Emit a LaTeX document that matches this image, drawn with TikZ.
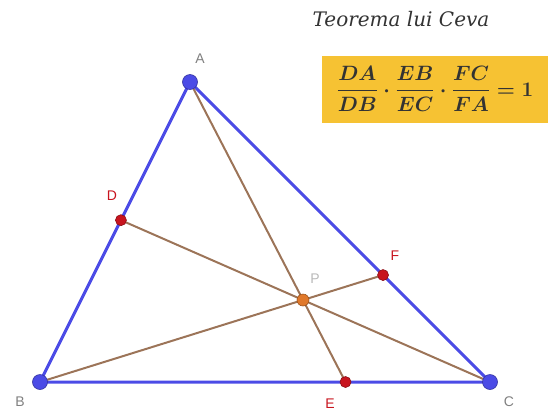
\documentclass[tikz,border=0pt]{standalone}
\usepackage{fontspec}
\setmainfont{Liberation Serif}
\setsansfont{Liberation Sans}
\newfontfamily\titlefont{DejaVu Serif}
\usepackage{amsmath}
\usetikzlibrary{backgrounds}
\definecolor{geoBlue}{HTML}{4B4BE6}
\definecolor{geoRed}{HTML}{C8141E}
\definecolor{geoOrange}{HTML}{E0782A}
\definecolor{geoBrown}{HTML}{9C7458}
\definecolor{geoGray}{HTML}{808080}
\definecolor{boxYellow}{HTML}{F6C233}
\newcommand{\cevaratio}{\ensuremath{\dfrac{DA}{DB}\cdot\dfrac{EB}{EC}\cdot\dfrac{FC}{FA}=1}}

\begin{document}
\begin{tikzpicture}[x=1pt, y=-1pt,
    vertex/.style={circle, fill=geoBlue, draw=geoBlue!70!black, line width=0.6pt,
                   minimum size=15pt, inner sep=0pt},
    footpt/.style={circle, fill=geoRed, draw=geoRed!70!black, line width=0.6pt,
                   minimum size=11pt, inner sep=0pt},
    centre/.style={circle, fill=geoOrange, draw=geoOrange!70!black, line width=0.6pt,
                   minimum size=12pt, inner sep=0pt},
    side/.style={geoBlue, line width=3pt},
    cevian/.style={geoBrown, line width=2pt},
    lbl/.style={font=\sffamily\fontsize{14}{14}\selectfont, text=geoGray},
    redlbl/.style={lbl, text=geoRed},
  ]
    \useasboundingbox (0,0) rectangle (557,413);

    % the triangle and the common point
    \coordinate (a) at (190,82);
    \coordinate (b) at (40,382);
    \coordinate (c) at (490,382);
    \coordinate (p) at (303,300);
    % feet of the cevians
    \coordinate (d) at (intersection of c--p and a--b);
    \coordinate (e) at (intersection of a--p and b--c);
    \coordinate (f) at (intersection of b--p and a--c);

    \node[vertex] (A) at (a) {};
    \node[vertex] (B) at (b) {};
    \node[vertex] (C) at (c) {};
    \node[footpt] (D) at (d) {};
    \node[footpt] (E) at (e) {};
    \node[footpt] (F) at (f) {};
    \node[centre] (P) at (p) {};

    \begin{pgfonlayer}{background}
      \draw[side] (A.center) -- (B.center) -- (C.center) -- cycle;
      \draw[cevian] (A.center) -- (E.center);
      \draw[cevian] (B.center) -- (F.center);
      \draw[cevian] (C.center) -- (D.center);
    \end{pgfonlayer}

    \node[lbl]    (labA) at (200,59)  {A};
    \node[lbl]    (labB) at (20,402)  {B};
    \node[lbl]    (labC) at (509,402) {C};
    \node[redlbl] (labD) at (112,196) {D};
    \node[redlbl] (labE) at (330,404) {E};
    \node[redlbl] (labF) at (395,256) {F};
    \node[lbl, text=geoGray!55] (labP) at (315,279) {P};

    \node[text=black!80] (title) at (401,19) {\titlefont\fontsize{20}{20}\selectfont\itshape Teorema lui Ceva};
    \node[fill=boxYellow, minimum width=226pt, minimum height=67pt, inner sep=0pt,
          text=black!80, font=\fontsize{22}{24}\selectfont\boldmath] (ceva) at (435,89) {\cevaratio};
\end{tikzpicture}
\end{document}
